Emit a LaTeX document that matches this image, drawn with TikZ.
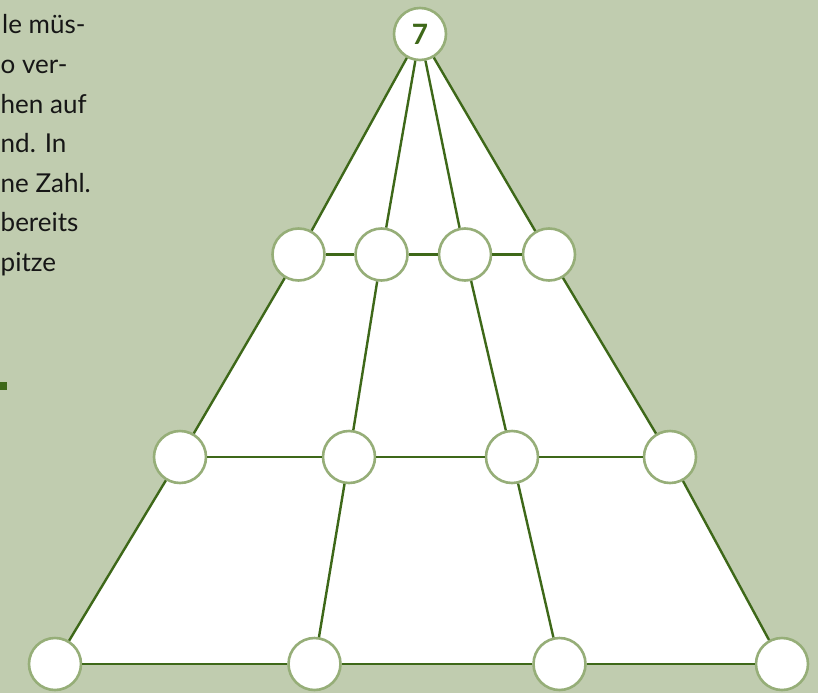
\documentclass[tikz,border=0pt]{standalone}
\usepackage{fontspec}
\setmainfont{Lato}
\usetikzlibrary{backgrounds}
\definecolor{bg}{RGB}{192,204,175}
\definecolor{ln}{RGB}{62,104,25}
\definecolor{ring}{RGB}{150,174,120}
\definecolor{txt}{RGB}{22,22,22}
\begin{document}
\begin{tikzpicture}[x=1pt,y=-1pt,
  ball/.style={circle,draw=ring,line width=2.6pt,fill=white,minimum size=52pt,inner sep=0pt},
  link/.style={draw=ln,line width=2.4pt},
  para/.style={anchor=base west,font=\fontsize{26}{30}\selectfont,text=txt,inner sep=0pt}]
\useasboundingbox (0,0) rectangle (818,693);
% nodes
\node[ball,font=\fontsize{28}{28}\selectfont\bfseries,text=ln] (t) at (420,34) {7};
\node[ball] (a1) at (298.5,254.5) {};
\node[ball] (a2) at (381.5,254.5) {};
\node[ball] (a3) at (465,254.5) {};
\node[ball] (a4) at (549,254.5) {};
\node[ball] (b1) at (180,457) {};
\node[ball] (b2) at (349,457) {};
\node[ball] (b3) at (512,457) {};
\node[ball] (b4) at (670,457) {};
\node[ball] (c1) at (55,664) {};
\node[ball] (c2) at (314.5,664) {};
\node[ball] (c3) at (559.5,664) {};
\node[ball] (c4) at (782,664) {};
% background and white area
\begin{scope}[on background layer]
  \fill[bg] (0,0) rectangle (818,693);
  \fill[white] (t.center) -- (a1.center) -- (b1.center) -- (c1.center) -- (c4.center) -- (b4.center) -- (a4.center) -- cycle;
\end{scope}
% connectors
\foreach \n in {a1,a2,a3,a4} \draw[link] (t) -- (\n);
\draw[link] (a1) -- (a2); \draw[link] (a2) -- (a3); \draw[link] (a3) -- (a4);
\draw[link] (b1) -- (b2); \draw[link] (b2) -- (b3); \draw[link] (b3) -- (b4);
\draw[link] (c1) -- (c2); \draw[link] (c2) -- (c3); \draw[link] (c3) -- (c4);
\draw[link] (a1) -- (b1); \draw[link] (a2) -- (b2); \draw[link] (a3) -- (b3); \draw[link] (a4) -- (b4);
\draw[link] (b1) -- (c1); \draw[link] (b2) -- (c2); \draw[link] (b3) -- (c3); \draw[link] (b4) -- (c4);
% text fragment at the left edge
\node[para] (p1) at (2,34) {le müs-};
\node[para] (p2) at (0.5,73.5) {o ver-};
\node[para] (p3) at (0.5,113) {hen auf};
\node[para] (p4) at (0.5,152.5) {nd. In};
\node[para] (p5) at (0.5,192) {ne Zahl.};
\node[para] (p6) at (0.5,231.5) {bereits};
\node[para] (p7) at (0.5,271) {pitze};
\fill[ln] (0,382) rectangle (7,390);
\end{tikzpicture}
\end{document}
